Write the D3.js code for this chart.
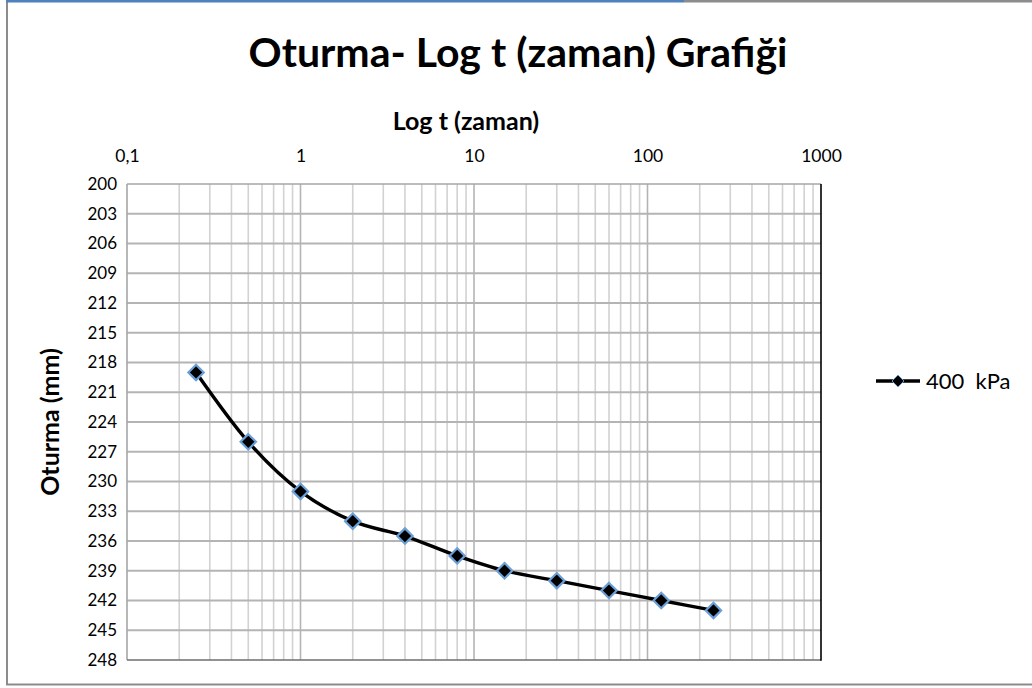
<!DOCTYPE html>
<html>
<head>
<meta charset="utf-8">
<script src="https://cdn.jsdelivr.net/npm/d3@7"></script>
<style>
  html, body { margin: 0; padding: 0; background: #fff; }
  svg { display: block; }
  text { font-family: Lato, "Open Sans", sans-serif; fill: #000; }
</style>
</head>
<body>
<svg id="chart" width="1032" height="688"></svg>
<script>
// Consolidation reading under the 400 kPa load step
const timeMin = [0.25, 0.5, 1, 2, 4, 8, 15, 30, 60, 120, 240];
const settlementMm = [219, 226, 231, 234, 235.5, 237.5, 239, 240, 241, 242, 243];

const xTickValues = [0.1, 1, 10, 100, 1000];
const xTickLabels = ["0,1", "1", "10", "100", "1000"];
const yTickValues = d3.range(200, 249, 3);

const titleText = "Oturma- Log t (zaman) Grafiği";
const xTitle = "Log t (zaman)";
const yTitle = "Oturma (mm)";
const seriesName = "400  kPa";

const svg = d3.select("#chart");
const plot = { left: 127, right: 821, top: 184, bottom: 660 };

const x = d3.scaleLog().domain([0.1, 1000]).range([plot.left, plot.right]);
const y = d3.scaleLinear().domain([200, 248]).range([plot.top, plot.bottom]);

// outer frame
svg.append("line").attr("x1", 7).attr("x2", 7).attr("y1", 0).attr("y2", 685)
  .attr("stroke", "#8c8c8c").attr("stroke-width", 2);
svg.append("line").attr("x1", 6).attr("x2", 684).attr("y1", 1).attr("y2", 1)
  .attr("stroke", "#4f81bd").attr("stroke-width", 3);
svg.append("line").attr("x1", 684).attr("x2", 1032).attr("y1", 1).attr("y2", 1)
  .attr("stroke", "#8c8c8c").attr("stroke-width", 3);
svg.append("line").attr("x1", 6).attr("x2", 1032).attr("y1", 684.5).attr("y2", 684.5)
  .attr("stroke", "#8c8c8c").attr("stroke-width", 2);

// title
svg.append("text").attr("x", 518).attr("y", 67).attr("text-anchor", "middle")
  .attr("font-size", 41).attr("font-weight", "bold").text(titleText);

// grid: minor verticals
const minorX = [];
for (let e = -1; e < 3; e++) {
  for (let m = 2; m <= 9; m++) minorX.push(m * Math.pow(10, e));
}
svg.append("g").selectAll("line").data(minorX).join("line")
  .attr("x1", d => x(d)).attr("x2", d => x(d))
  .attr("y1", plot.top).attr("y2", plot.bottom)
  .attr("stroke", "#d2d2d2").attr("stroke-width", 1.6);

// grid: major verticals
svg.append("g").selectAll("line").data([1, 10, 100]).join("line")
  .attr("x1", d => x(d)).attr("x2", d => x(d))
  .attr("y1", plot.top).attr("y2", plot.bottom)
  .attr("stroke", "#b4b4b4").attr("stroke-width", 1.6);

// grid: horizontals
svg.append("g").selectAll("line").data(yTickValues.slice(1, -1)).join("line")
  .attr("x1", plot.left).attr("x2", plot.right)
  .attr("y1", d => y(d)).attr("y2", d => y(d))
  .attr("stroke", "#b4b4b4").attr("stroke-width", 1.8);

// plot frame
svg.append("line").attr("x1", plot.left).attr("x2", plot.right)
  .attr("y1", plot.top).attr("y2", plot.top).attr("stroke", "#a6a6a6").attr("stroke-width", 1.6);
svg.append("line").attr("x1", plot.left).attr("x2", plot.left)
  .attr("y1", plot.top).attr("y2", plot.bottom).attr("stroke", "#a6a6a6").attr("stroke-width", 1.6);
svg.append("line").attr("x1", plot.left).attr("x2", plot.right)
  .attr("y1", plot.bottom).attr("y2", plot.bottom).attr("stroke", "#6e6e6e").attr("stroke-width", 1.6);
svg.append("line").attr("x1", plot.right).attr("x2", plot.right)
  .attr("y1", plot.top).attr("y2", plot.bottom + 0.8).attr("stroke", "#000").attr("stroke-width", 1.6);

// x axis (top)
const xAxis = d3.axisTop(x).tickValues(xTickValues)
  .tickFormat((d, i) => xTickLabels[i]).tickSize(0).tickPadding(22);
const gx = svg.append("g").attr("transform", `translate(0,${plot.top})`).call(xAxis);
gx.select(".domain").remove();
gx.selectAll("text").attr("font-size", 17.5).attr("font-family", "Lato, sans-serif").attr("fill", "#1a1a1a");

// y axis (left)
const yAxis = d3.axisLeft(y).tickValues(yTickValues).tickSize(0).tickPadding(10);
const gy = svg.append("g").attr("transform", `translate(${plot.left},0)`).call(yAxis);
gy.select(".domain").remove();
gy.selectAll("text").attr("font-size", 17).attr("font-family", "Lato, sans-serif").attr("fill", "#1a1a1a");

// axis titles
svg.append("text").attr("x", 466).attr("y", 130).attr("text-anchor", "middle")
  .attr("font-size", 25).attr("font-weight", "bold").text(xTitle);
svg.append("text").attr("transform", `translate(59,${(plot.top + plot.bottom) / 2}) rotate(-90)`)
  .attr("text-anchor", "middle").attr("font-size", 25).attr("font-weight", "bold").text(yTitle);

// series line
const line = d3.line().x(d => x(d[0])).y(d => y(d[1])).curve(d3.curveMonotoneX);
const pts = timeMin.map((t, i) => [t, settlementMm[i]]);
svg.append("path").datum(pts).attr("d", line)
  .attr("fill", "none").attr("stroke", "#000").attr("stroke-width", 3.4);

// diamond markers
const diamond = d3.symbol().type(d3.symbolDiamond2).size(150);
svg.append("g").selectAll("path").data(pts).join("path")
  .attr("d", diamond)
  .attr("transform", d => `translate(${x(d[0])},${y(d[1])})`)
  .attr("fill", "#000").attr("stroke", "#6a9fd8").attr("stroke-width", 2.2);

// legend
const lg = svg.append("g").attr("transform", "translate(876,381)");
lg.append("line").attr("x1", 0).attr("x2", 44).attr("y1", 0).attr("y2", 0)
  .attr("stroke", "#000").attr("stroke-width", 3.4);
lg.append("path").attr("d", d3.symbol().type(d3.symbolDiamond2).size(90))
  .attr("transform", "translate(22,0)")
  .attr("fill", "#000").attr("stroke", "#6a9fd8").attr("stroke-width", 1);
lg.append("text").attr("x", 50).attr("y", 8).attr("font-size", 22)
  .style("white-space", "pre").text(seriesName);
</script>
</body>
</html>
